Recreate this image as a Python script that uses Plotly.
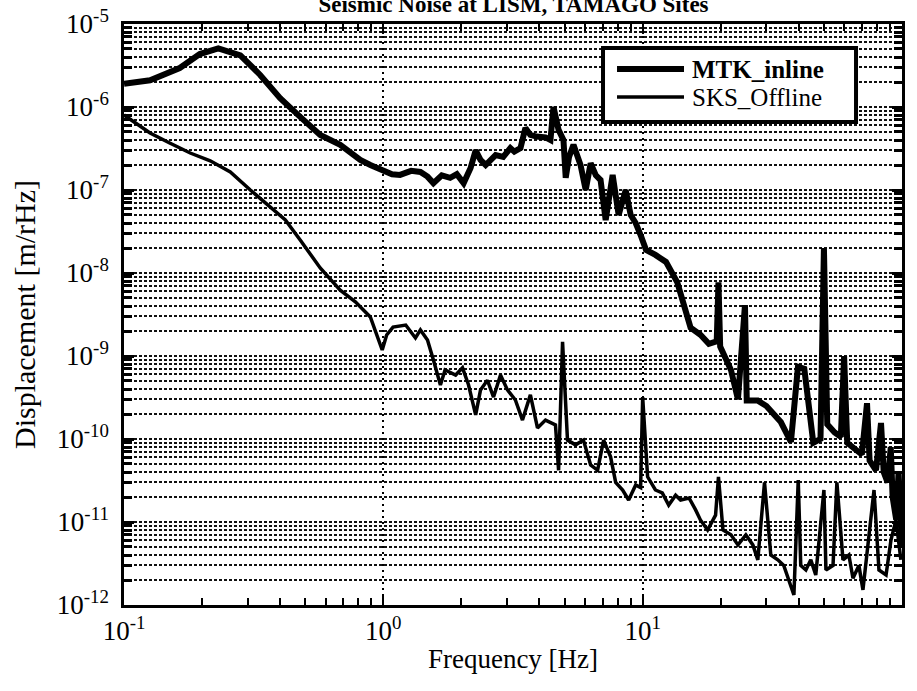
import plotly.graph_objects as go

# ---------------- data ----------------
mtk_freq = [0.1, 0.126, 0.164, 0.196, 0.231, 0.281, 0.335, 0.40, 0.478, 0.571, 0.682, 0.815, 0.891,
            1.0, 1.08, 1.16, 1.28, 1.39, 1.48, 1.56, 1.68, 1.81, 1.92, 2.04, 2.17, 2.27, 2.37, 2.48,
            2.6, 2.71, 2.9, 3.09, 3.2, 3.38, 3.53, 3.69, 3.9, 4.22, 4.41, 4.53, 4.74, 4.95, 5.05,
            5.2, 5.41, 5.76, 6.03, 6.30, 6.6, 6.88, 7.2, 7.39, 7.66, 8.08, 8.6, 8.99, 9.4, 9.82,
            10.3, 11.2, 12.3, 13.6, 14.5, 15.3, 16.7, 18.0, 19.3, 19.6, 19.9, 21.9, 23.3, 24.8,
            25.2, 27.8, 30.0, 34.1, 37.3, 39.7, 42.0, 45.5, 48.5, 50.0, 51.5, 55.0, 58.1, 59.8,
            61.5, 66.4, 70.0, 73.3, 75.0, 79.4, 83.0, 85.0, 88.0, 90.5, 92.0, 95.0, 97.0, 100.0]
mtk_disp = [1.9e-6, 2.1e-6, 2.95e-6, 4.35e-6, 5.1e-6, 4.2e-6, 2.43e-6, 1.28e-6, 7.6e-7, 4.6e-7, 3.5e-7, 2.3e-7, 2.0e-7,
            1.74e-7, 1.55e-7, 1.52e-7, 1.7e-7, 1.65e-7, 1.45e-7, 1.21e-7, 1.5e-7, 1.40e-7, 1.55e-7, 1.21e-7, 1.84e-7, 3.0e-7, 2.3e-7, 2.0e-7,
            2.4e-7, 2.64e-7, 2.5e-7, 3.2e-7, 2.9e-7, 3.2e-7, 5.6e-7, 4.6e-7, 4.4e-7, 4.3e-7, 4.0e-7, 1.0e-6, 5.3e-7, 4.0e-7, 1.4e-7,
            2.5e-7, 3.5e-7, 2.0e-7, 1.0e-7, 2.1e-7, 1.5e-7, 1.32e-7, 4.35e-8, 7.6e-8, 1.52e-7, 5.0e-8, 1.0e-7, 5.0e-8, 4.0e-8, 2.87e-8,
            1.9e-8, 1.65e-8, 1.36e-8, 7.7e-9, 4.0e-9, 2.2e-9, 1.8e-9, 1.4e-9, 1.5e-9, 7.7e-9, 1.3e-9, 6.8e-10, 3.0e-10, 4.1e-9,
            2.9e-10, 2.9e-10, 2.5e-10, 1.6e-10, 9.2e-11, 7.4e-10, 7.0e-10, 9.0e-11, 1.0e-10, 2.0e-8, 1.5e-10, 1.2e-10, 1.06e-10, 1.0e-9,
            9.0e-11, 7.4e-11, 6.5e-11, 2.7e-10, 5.5e-11, 4.2e-11, 1.56e-10, 4.0e-11, 3.0e-11, 8.0e-11, 2.0e-11, 1.06e-11, 4.0e-11, 5.0e-12]

sks_freq = [0.1, 0.126, 0.150, 0.180, 0.215, 0.257, 0.307, 0.366, 0.419, 0.478, 0.571, 0.682, 0.78, 0.891,
            0.99, 1.03, 1.09, 1.22, 1.33, 1.39, 1.48, 1.56, 1.66, 1.73, 1.90, 2.02, 2.13, 2.27, 2.37, 2.52,
            2.66, 2.83, 3.01, 3.23, 3.44, 3.69, 3.93, 4.22, 4.61, 4.74, 4.91, 5.13, 5.51, 5.91, 6.30, 6.70,
            7.07, 7.52, 7.87, 8.37, 8.83, 9.40, 9.82, 10.0, 10.45, 11.2, 11.9, 12.6, 13.4, 14.0, 15.1, 16.0,
            16.7, 17.8, 19.1, 19.6, 20.4, 21.9, 23.3, 25.0, 26.6, 27.8, 29.5, 31.2, 33.2, 35.0, 37.3, 38.3,
            39.8, 40.7, 42.6, 44.5, 46.5, 50.0, 50.9, 54.2, 56.1, 59.2, 62.4, 64.7, 68.2, 70.7, 78.0, 81.5,
            86.8, 90.7, 94.8, 99.0]
sks_disp = [8.0e-7, 4.86e-7, 3.68e-7, 2.79e-7, 2.25e-7, 1.65e-7, 1.0e-7, 6.2e-8, 4.35e-8, 2.5e-8, 1.15e-8, 6.2e-9, 4.5e-9, 2.95e-9,
            1.18e-9, 1.79e-9, 2.23e-9, 2.36e-9, 1.65e-9, 2.06e-9, 1.56e-9, 8.95e-10, 4.48e-10, 6.8e-10, 5.9e-10, 7.2e-10, 4.5e-10, 1.95e-10, 3.9e-10, 5.1e-10,
            3.2e-10, 5.9e-10, 3.9e-10, 2.95e-10, 1.69e-10, 3.4e-10, 1.36e-10, 1.69e-10, 1.48e-10, 4.2e-11, 1.48e-9, 9.7e-11, 8.5e-11, 9.7e-11, 4.86e-11, 4.2e-11,
            9.7e-11, 6.1e-11, 3.0e-11, 2.43e-11, 1.84e-11, 2.8e-11, 2.6e-11, 3.2e-10, 3.5e-11, 2.43e-11, 2.24e-11, 1.6e-11, 2.1e-11, 1.84e-11, 1.95e-11, 1.4e-11,
            1.06e-11, 8.0e-12, 1.21e-11, 3.5e-11, 8.0e-12, 7.0e-12, 5.3e-12, 7.0e-12, 5.3e-12, 3.5e-12, 3.0e-11, 4.0e-12, 3.5e-12, 3.0e-12, 1.74e-12, 1.32e-12,
            3.2e-11, 3.0e-12, 2.64e-12, 3.5e-12, 2.3e-12, 2.43e-11, 2.64e-12, 3.0e-12, 3.0e-11, 3.5e-12, 4.0e-12, 2.1e-12, 3.0e-12, 1.52e-12, 2.43e-11, 2.64e-12,
            2.3e-12, 6.1e-12, 1.06e-11, 3.5e-12]

y_tickvals = [1e-12, 1e-11, 1e-10, 1e-9, 1e-8, 1e-7, 1e-6, 1e-5]
y_ticktext = ["10<sup>-12</sup>", "10<sup>-11</sup>", "10<sup>-10</sup>", "10<sup>-9</sup>",
              "10<sup>-8</sup>", "10<sup>-7</sup>", "10<sup>-6</sup>", "10<sup>-5</sup>"]
x_tickvals = [0.1, 1, 10, 100]
x_ticktext = ["10<sup>-1</sup>", "10<sup>0</sup>", "10<sup>1</sup>", "10<sup>2</sup>"]

series_names = ["MTK_inline", "SKS_Offline"]

FONT = "Liberation Serif"
PAD = "\u00a0"  # small gap between y tick labels and the frame

fig = go.Figure()
fig.add_trace(go.Scatter(x=mtk_freq, y=mtk_disp, mode="lines", name=series_names[0],
                         line=dict(color="black", width=6), showlegend=False))
fig.add_trace(go.Scatter(x=sks_freq, y=sks_disp, mode="lines", name=series_names[1],
                         line=dict(color="black", width=3.5), showlegend=False))

grid_common = dict(gridcolor="#111111", gridwidth=2, griddash="3px,2px")

fig.update_xaxes(type="log", range=[-1, 2], tickvals=x_tickvals, ticktext=x_ticktext,
                 ticks="inside", ticklen=10, tickwidth=2, tickcolor="black",
                 showline=True, linecolor="black", linewidth=3, mirror="ticks",
                 showgrid=True, gridcolor="black", gridwidth=2, griddash="2px,4px",
                 minor=dict(ticks="inside", ticklen=7, tickwidth=2, tickcolor="black",
                            dtick="D1", showgrid=False),
                 tickfont=dict(family=FONT, size=27, color="black"),
                 title=dict(text="Frequency [Hz]", font=dict(family=FONT, size=27, color="black"),
                            standoff=4),
                 zeroline=False)
fig.update_yaxes(type="log", range=[-12, -5], tickvals=y_tickvals,
                 ticktext=[t + PAD for t in y_ticktext],
                 ticks="inside", ticklen=10, tickwidth=3, tickcolor="black",
                 showline=True, linecolor="black", linewidth=3, mirror="ticks",
                 showgrid=True, **grid_common,
                 minor=dict(ticks="inside", ticklen=8, tickwidth=3, tickcolor="black",
                            dtick="D1", showgrid=True, **grid_common),
                 tickfont=dict(family=FONT, size=27, color="black"),
                 title=dict(text="Displacement [m/rHz]", font=dict(family=FONT, size=30, color="black"),
                            standoff=13),
                 zeroline=False)

# legend drawn as a framed box (paper coordinates)
lx0, lx1, ly0, ly1 = 0.6157, 0.9409, 0.8313, 0.9587
fig.add_shape(type="rect", xref="paper", yref="paper", x0=lx0, x1=lx1, y0=ly0, y1=ly1,
              line=dict(color="black", width=4), fillcolor="white", layer="above")
legend_rows = [(series_names[0], 6, 0.9225, True), (series_names[1], 3.5, 0.8743, False)]
for name, w, yy, bold in legend_rows:
    fig.add_shape(type="line", xref="paper", yref="paper", x0=0.6337, x1=0.7198, y0=yy, y1=yy,
                  line=dict(color="black", width=w), layer="above")
    fig.add_annotation(xref="paper", yref="paper", x=0.728, y=yy, xanchor="left", yanchor="middle",
                       text=("<b>%s</b>" % name) if bold else name, showarrow=False,
                       font=dict(family=FONT, size=25, color="black"))

fig.update_layout(
    width=917, height=691,
    margin=dict(l=124, r=15, t=24, b=86, autoexpand=False),
    paper_bgcolor="white", plot_bgcolor="white",
    title=dict(text="<b>Seismic Noise at LISM, TAMAGO Sites</b>", x=0.56, xanchor="center",
               y=0.995, yanchor="middle", font=dict(family=FONT, size=23, color="black")),
    showlegend=False,
)

fig.write_html("out.html")
